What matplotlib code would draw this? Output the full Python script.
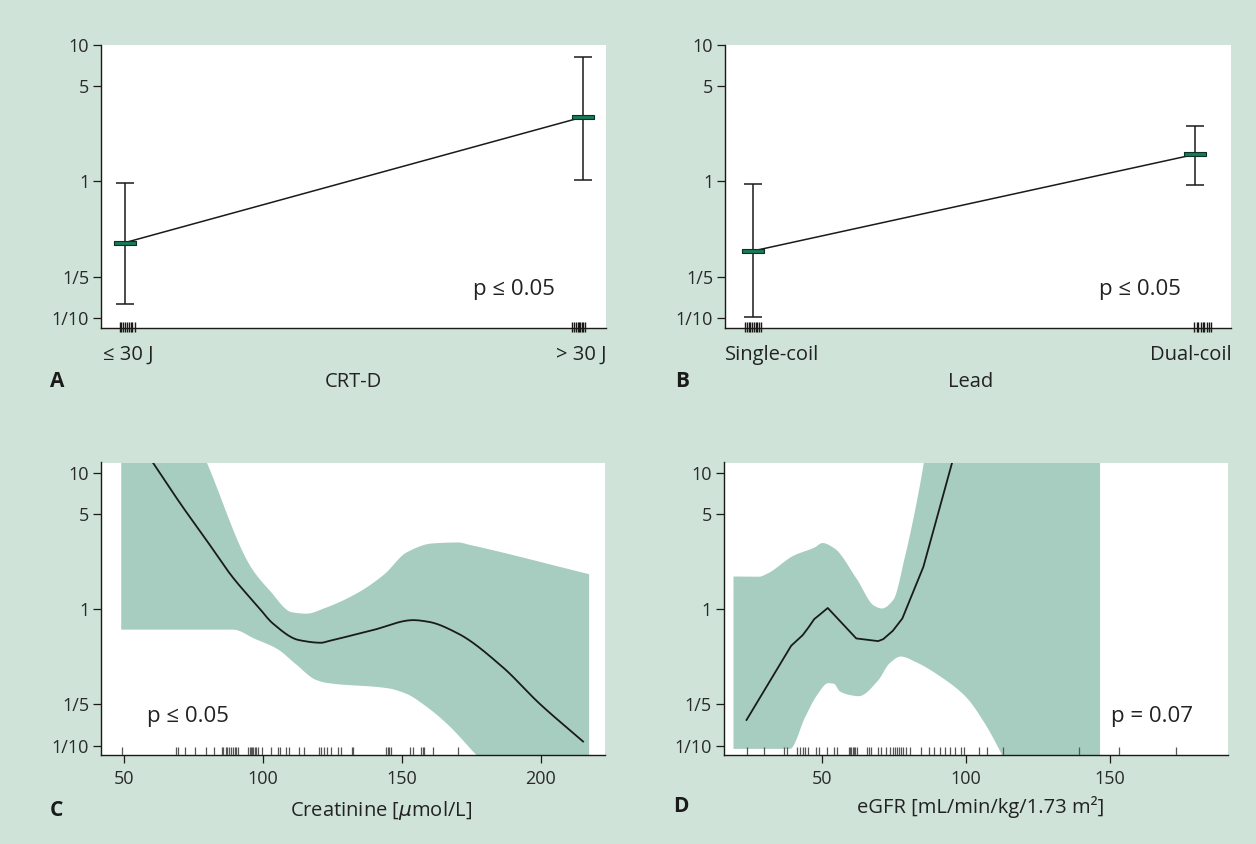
import numpy as np
import matplotlib.pyplot as plt
from matplotlib.ticker import NullLocator

plt.rcParams['font.family'] = ['Open Sans', 'DejaVu Sans']

BG = '#cfe3d9'
BAND = '#a6cdbf'
BAR = '#177a5b'
INK = '#1a1a1a'

# y axis (hazard ratio, log scale)
ytick_vals = [0.1, 0.2, 1, 5, 10]
ytick_labels = ['1/10', '1/5', '1', '5', '10']

# panel A: CRT-D energy
crt_labels = ['≤ 30 J', '> 30 J']
crt_est = [0.358, 2.96]
crt_lo = [0.127, 1.03]
crt_hi = [0.978, 8.07]
crt_rug = [-0.012, -0.008, -0.004, 0.0, 0.004, 0.008, 0.012, 0.016, 0.021,
           0.976, 0.980, 0.984, 0.988, 0.991, 0.994, 0.997, 1.000, 1.004]

# panel B: lead type
lead_labels = ['Single-coil', 'Dual-coil']
lead_est = [0.311, 1.576]
lead_lo = [0.102, 0.946]
lead_hi = [0.957, 2.54]
lead_rug = [-0.019, -0.014, -0.010, -0.006, -0.002, 0.002, 0.006, 0.010, 0.014, 0.018,
            0.999, 1.004, 1.008, 1.013, 1.018, 1.022, 1.027, 1.032, 1.036]

# panel C: creatinine spline
crea_x = [48.7, 60.3, 70.2, 79.6, 88.9, 98.2, 103.5, 112.9, 120.9, 123.5,
          139.5, 154.1, 159.5, 170.1, 186.1, 199.4, 215.2]
crea_y = [26.8, 11.9, 5.94, 3.2, 1.726, 1.04, 0.785, 0.593, 0.567, 0.583,
          0.702, 0.831, 0.808, 0.664, 0.378, 0.204, 0.107]
crea_up_x = [48.7, 79.6, 95.5, 102.2, 110.2, 115.5, 122.2, 134.2, 143.5, 151.5,
             160.8, 170.1, 174.1, 217.2]
crea_up_y = [330, 11.9, 2.04, 1.38, 0.956, 0.935, 1.03, 1.34, 1.82, 2.63,
             3.06, 3.11, 2.99, 1.82]
crea_lo_x = [48.7, 88.9, 96.9, 104.9, 111.5, 118.9, 122.9, 144.8, 151.5, 158.1,
             166.1, 176.8, 217.2]
crea_lo_y = [0.714, 0.714, 0.61, 0.515, 0.40, 0.305, 0.29, 0.265, 0.241, 0.198,
             0.145, 0.085, 0.012]
crea_rug = [49.2, 68.5, 69.2, 71.8, 75.4, 79.3, 82.4, 85.2, 85.7, 86.5, 86.9, 87.6,
            88.4, 89.1, 89.8, 90.3, 90.8, 94.6, 95.1, 95.6, 96.0, 96.5, 97.0, 97.5,
            98.2, 99.4, 102.8, 105.4, 106.1, 108.1, 109.3, 112.9, 114.8, 120.1,
            121.0, 122.0, 122.9, 124.4, 127.0, 128.0, 132.0, 132.5, 144.3, 144.8,
            145.2, 146.0, 152.7, 153.9, 157.0, 157.5, 158.0, 161.3, 170.0]

# panel D: eGFR spline
egfr_x = [23.7, 39.2, 43.2, 45.2, 47.2, 48.5, 51.9, 61.8, 69.4, 71.2, 74.5,
          77.8, 85.1, 89.1, 95.1, 100.0]
egfr_y = [0.154, 0.539, 0.645, 0.734, 0.845, 0.889, 1.02, 0.61, 0.583, 0.603,
          0.694, 0.854, 2.04, 4.12, 11.9, 28.0]
egfr_up_x = [19.0, 27.9, 30.6, 39.9, 47.2, 49.9, 53.9, 61.8, 67.8, 70.5, 74.5,
             78.5, 81.8, 85.1, 88.0, 146.3]
egfr_up_y = [1.75, 1.745, 1.83, 2.49, 2.86, 3.08, 2.83, 1.68, 1.07, 1.02, 1.18,
             2.42, 5.02, 11.9, 30.0, 1000.0]
egfr_lo_x = [19.0, 38.6, 43.9, 47.9, 51.9, 53.9, 55.9, 59.2, 62.5, 69.2, 73.2,
             77.1, 82.5, 90.4, 99.8, 106.4, 112.4, 120.0, 146.3]
egfr_lo_y = [0.0953, 0.0953, 0.163, 0.234, 0.289, 0.286, 0.252, 0.237, 0.232,
             0.302, 0.404, 0.453, 0.411, 0.328, 0.228, 0.145, 0.085, 0.04, 0.001]
egfr_rug = [24.0, 29.8, 36.7, 37.6, 41.1, 42.3, 43.2, 44.1, 44.9, 47.8, 48.8,
            51.7, 54.1, 55.0, 59.2, 59.6, 60.1, 60.6, 61.0, 61.5, 61.9, 65.6,
            66.3, 67.0, 69.3, 70.3, 72.1, 73.5, 74.4, 75.3, 76.0, 76.7, 77.4,
            78.1, 79.1, 80.5, 84.2, 86.9, 88.8, 90.9, 92.7, 94.3, 96.2, 98.1,
            99.2, 104.3, 107.1, 112.8, 139.0, 153.0, 173.0]

W, H = 1256, 844


def px_rect(l, t, r, b):
    return [l / W, 1 - b / H, (r - l) / W, (b - t) / H]


def px_text(fig, x, y, s, **kw):
    fig.text(x / W, 1 - y / H, s, **kw)


def pchip(x, y, xn):
    """monotone cubic interpolation, keeps the read-off points"""
    x = np.asarray(x, float)
    y = np.asarray(y, float)
    h = np.diff(x)
    dl = np.diff(y) / h
    d = np.zeros_like(y)
    d[0], d[-1] = dl[0], dl[-1]
    for k in range(1, len(x) - 1):
        if dl[k - 1] * dl[k] > 0:
            w1 = 2 * h[k] + h[k - 1]
            w2 = h[k] + 2 * h[k - 1]
            d[k] = (w1 + w2) / (w1 / dl[k - 1] + w2 / dl[k])
    i = np.clip(np.searchsorted(x, xn) - 1, 0, len(x) - 2)
    t = (xn - x[i]) / h[i]
    h00 = 2 * t**3 - 3 * t**2 + 1
    h10 = t**3 - 2 * t**2 + t
    h01 = -2 * t**3 + 3 * t**2
    h11 = t**3 - t**2
    return h00 * y[i] + h10 * h[i] * d[i] + h01 * y[i + 1] + h11 * h[i] * d[i + 1]


def smooth_log(x, y, xn):
    return np.exp(pchip(x, np.log(y), xn))


def style(ax, ylim):
    ax.set_yscale('log')
    ax.set_ylim(*ylim)
    ax.set_yticks(ytick_vals, ytick_labels)
    ax.yaxis.set_minor_locator(NullLocator())
    for s in ['top', 'right']:
        ax.spines[s].set_visible(False)
    for s in ['left', 'bottom']:
        ax.spines[s].set_linewidth(1.0)
        ax.spines[s].set_color(INK)
    ax.tick_params(axis='y', length=5.5, width=0.9, color=INK, pad=3,
                   labelsize=13, labelcolor='#2a2a2a')
    ax.tick_params(axis='x', length=5.5, width=0.9, color=INK, pad=5,
                   labelsize=13, labelcolor='#2a2a2a')


bar_marker = [(-1, -0.2), (1, -0.2), (1, 0.2), (-1, 0.2), (-1, -0.2)]


def cat_panel(ax, est, lo, hi, rug, xlim):
    x = np.arange(len(est))
    ax.plot(x, est, color=INK, lw=1.1, zorder=2)
    yerr = [np.subtract(est, lo), np.subtract(hi, est)]
    ax.errorbar(x, est, yerr=yerr, fmt='none', ecolor=INK, elinewidth=1.1,
                capsize=6.5, capthick=1.1, zorder=3)
    ax.plot(x, est, ls='none', marker=bar_marker, ms=16.5, mfc=BAR,
            mec='#0b3024', mew=0.8, zorder=4)
    ax.vlines(rug, -0.015, 0.02, transform=ax.get_xaxis_transform(),
              color=INK, lw=1.0, clip_on=False, zorder=5)
    ax.set_xlim(*xlim)
    ax.set_xticks([])


def spline_panel(ax, x, y, up_x, up_y, lo_x, lo_y, rug, xlim, xticks, smooth_line):
    # band between the smoothed upper and lower limits
    grid = np.linspace(min(up_x[0], lo_x[0]), max(up_x[-1], lo_x[-1]), 600)
    up = smooth_log(up_x, up_y, grid)
    lo = smooth_log(lo_x, lo_y, grid)
    ax.fill_between(grid, lo, up, color=BAND, lw=0, zorder=1)
    if smooth_line:
        gx = np.linspace(x[0], x[-1], 600)
        ax.plot(gx, smooth_log(x, y, gx), color=INK, lw=1.3, zorder=3)
    else:
        ax.plot(x, y, color=INK, lw=1.3, zorder=3)
    ax.vlines(rug, 0, 0.028, transform=ax.get_xaxis_transform(),
              color='#555555', lw=0.9, zorder=4)
    ax.set_xlim(*xlim)
    ax.set_xticks(xticks)


fig = plt.figure(figsize=(12.56, 8.44), dpi=100, facecolor=BG)

axA = fig.add_axes(px_rect(101, 44.5, 606, 328))
axB = fig.add_axes(px_rect(725, 44.5, 1231, 328))
axC = fig.add_axes(px_rect(101, 462.5, 605, 755))
axD = fig.add_axes(px_rect(723.5, 462.5, 1228, 755))

for ax, ylim in [(axA, (0.0852, 10)), (axB, (0.0852, 10)),
                 (axC, (0.0852, 11.9)), (axD, (0.0852, 11.9))]:
    style(ax, ylim)

cat_panel(axA, crt_est, crt_lo, crt_hi, crt_rug, (-0.0526, 1.0498))
cat_panel(axB, lead_est, lead_lo, lead_hi, lead_rug, (-0.0634, 1.082))
spline_panel(axC, crea_x, crea_y, crea_up_x, crea_up_y, crea_lo_x, crea_lo_y,
             crea_rug, (41.6, 223.1), [50, 100, 150, 200], True)
spline_panel(axD, egfr_x, egfr_y, egfr_up_x, egfr_up_y, egfr_lo_x, egfr_lo_y,
             egfr_rug, (15.7, 190.9), [50, 100, 150], False)

# p-values
pkw = dict(ha='left', va='center', fontsize=16, color='#222222')
axA.text(0.736, 0.137, 'p ≤ 0.05', transform=axA.transAxes, **pkw)
axB.text(0.739, 0.137, 'p ≤ 0.05', transform=axB.transAxes, **pkw)
axC.text(0.092, 0.131, 'p ≤ 0.05', transform=axC.transAxes, **pkw)
axD.text(0.768, 0.133, 'p = 0.07', transform=axD.transAxes, **pkw)

# category labels, axis titles and panel letters
tkw = dict(va='center', fontsize=14.5, color='#222222')
px_text(fig, 103, 355, crt_labels[0], ha='left', **tkw)
px_text(fig, 607, 355, crt_labels[1], ha='right', **tkw)
px_text(fig, 725, 355, lead_labels[0], ha='left', **tkw)
px_text(fig, 1232, 355, lead_labels[1], ha='right', **tkw)

px_text(fig, 353, 382, 'CRT-D', ha='center', **tkw)
px_text(fig, 971, 382, 'Lead', ha='center', **tkw)
px_text(fig, 381, 810, r'Creatinine [$\mu$mol/L]', ha='center', **tkw)
px_text(fig, 981, 807, 'eGFR [mL/min/kg/1.73 m²]', ha='center', **tkw)

lkw = dict(ha='left', va='center', fontsize=15, fontweight='bold', color='#1a1a1a')
px_text(fig, 50, 382, 'A', **lkw)
px_text(fig, 675, 382, 'B', **lkw)
px_text(fig, 50, 810, 'C', **lkw)
px_text(fig, 673, 807, 'D', **lkw)

fig.savefig('out.png', dpi=100, facecolor=BG)
